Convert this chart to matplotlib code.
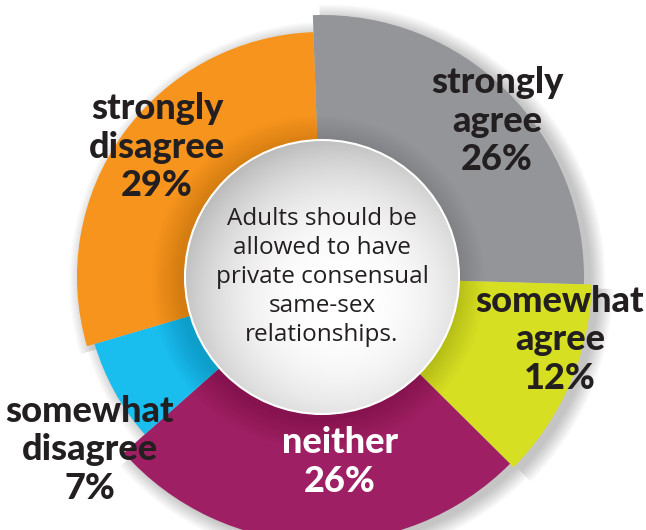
import numpy as np
import matplotlib.pyplot as plt
from matplotlib.patches import Wedge, Circle

# survey answers, clockwise from the top
categories = ['strongly agree', 'somewhat agree', 'neither', 'somewhat disagree', 'strongly disagree']
shares = [26, 12, 26, 7, 29]
question = 'Adults should be\nallowed to have\nprivate consensual\nsame-sex\nrelationships.'

# styling
colors = ['#939598', '#d7df23', '#9e1f63', '#19bdee', '#f7941d']
radii = [262, 270, 265, 237, 245]
text_colors = ['#231f20', '#231f20', 'white', '#231f20', '#231f20']
label_xy = [(497, 121), (560, 340), (340, 462), (90, 450), (157, 147)]  # pixels from top-left

W, H = 646, 530
cx, cy = 322, H - 277
r_in = 137
start = 92

fig = plt.figure(figsize=(W / 100, H / 100), dpi=100)
ax = fig.add_axes([0, 0, 1, 1])

# wedge angles, going clockwise
angles = []
a = start
for s in shares:
    angles.append((a - s * 3.6, a))
    a -= s * 3.6

# soft drop shadow behind the ring
for k in range(10):
    for (t1, t2), r in zip(angles, radii):
        ax.add_patch(Wedge((cx + 7, cy - 4), r + k * 1.6, t1, t2, color='black',
                           alpha=0.022, lw=0, zorder=1))

for (t1, t2), r, c in zip(angles, radii, colors):
    ax.add_patch(Wedge((cx, cy), r, t1, t2, width=r - 80, facecolor=c, edgecolor='none', zorder=2))

# shading cast by the centre disc
for k in range(12):
    ax.add_patch(Circle((cx - 4, cy - 5), r_in + 2 + k * 2.5, color='black', alpha=0.011, lw=0, zorder=3))

# centre disc with radial gradient
n = 400
xs = np.linspace(cx - r_in, cx + r_in, n)
ys = np.linspace(cy - r_in, cy + r_in, n)
X, Y = np.meshgrid(xs, ys)
d = np.hypot(X - (cx + 18), Y - (cy - 22)) / r_in
shade = 1 - 0.17 * np.clip(d, 0, 1.3) ** 2.5
img = ax.imshow(shade, extent=(cx - r_in, cx + r_in, cy - r_in, cy + r_in), origin='lower',
                cmap='gray', vmin=0, vmax=1, zorder=5, interpolation='bilinear')
disc = Circle((cx, cy), r_in, facecolor='none', edgecolor='white', lw=1.5, zorder=6)
ax.add_patch(disc)
img.set_clip_path(disc)

ax.text(cx, cy, question, ha='center', va='center', fontsize=17.5, family='Open Sans',
        color='#231f20', linespacing=1.28, zorder=7)

for cat, s, (lx, ly), tc in zip(categories, shares, label_xy, text_colors):
    txt = cat.replace(' ', '\n') + '\n' + str(s) + '%'
    ax.text(lx, H - ly, txt, ha='center', va='center', fontsize=26, family='Lato',
            fontweight='black', color=tc, linespacing=1.22, zorder=8)

ax.set_xlim(0, W)
ax.set_ylim(0, H)
ax.axis('off')
fig.savefig('out.png', dpi=100)
